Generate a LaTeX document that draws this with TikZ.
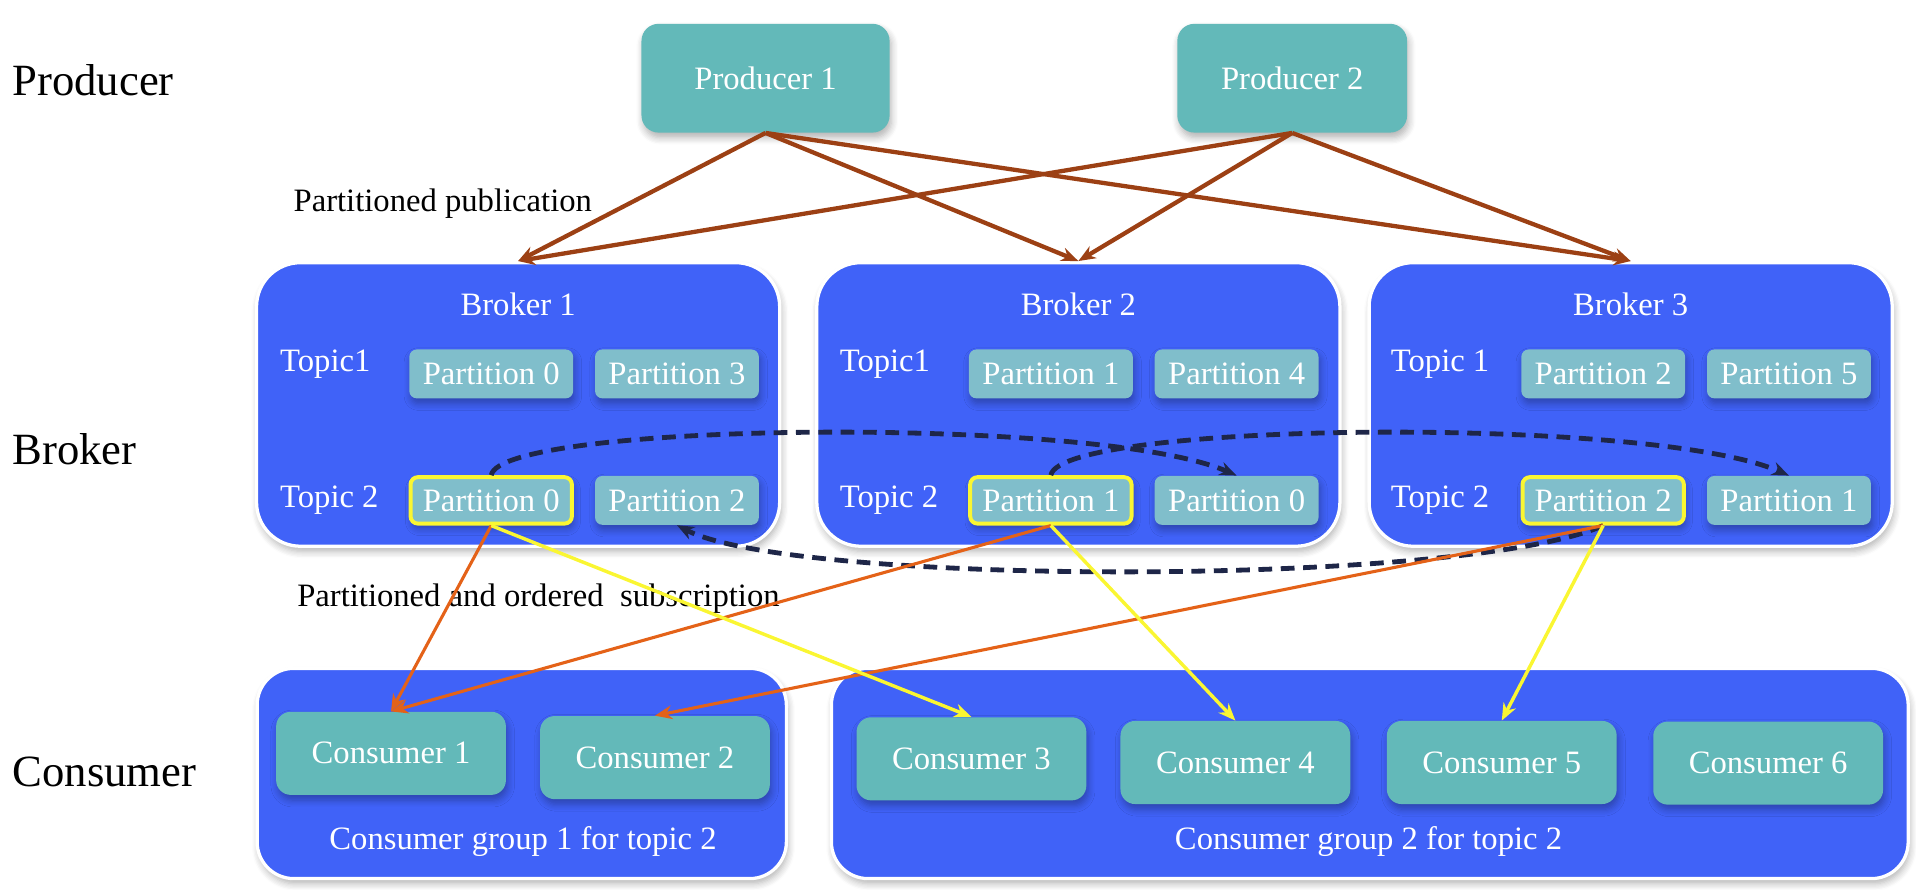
\documentclass[tikz,border=0pt]{standalone}
\usepackage{fontspec}
\setmainfont{Liberation Serif}
\usetikzlibrary{arrows.meta,shadows.blur}
\definecolor{tealbox}{RGB}{99,185,185}
\definecolor{brokerblue}{RGB}{64,98,248}
\definecolor{partcol}{RGB}{128,190,203}
\definecolor{leadyellow}{RGB}{250,246,50}
\definecolor{pubbrown}{RGB}{156,64,20}
\definecolor{suborange}{RGB}{228,98,24}
\definecolor{repnavy}{RGB}{30,38,72}
\begin{document}
\begin{tikzpicture}
    [x=0.025cm,y=-0.025cm,inner sep=0pt,
     >={Stealth[length=10pt,width=8pt]},
     softshadow/.style={blur shadow={shadow blur steps=6,shadow xshift=1pt,shadow yshift=-3pt,shadow blur radius=4pt,shadow opacity=30}},
     rowlabel/.style={anchor=west,font=\fontsize{26}{31}\selectfont},
     plaintext/.style={font=\fontsize{19}{23}\selectfont},
     boxtext/.style={text=white,font=\fontsize{19}{23}\selectfont},
     producer/.style={rectangle,rounded corners=0.35cm,fill=tealbox,minimum height=2.225cm,boxtext,softshadow},
     broker/.style={rectangle,rounded corners=0.9cm,fill=brokerblue,draw=white,line width=1.9pt,minimum width=10.7cm,minimum height=5.8cm,softshadow},
     partbox/.style={rectangle,rounded corners=0.15cm,fill=partcol,minimum width=3.35cm,minimum height=1cm,boxtext,softshadow},
     leadbox/.style={partbox,draw=leadyellow,line width=2.3pt,minimum width=3.3cm,minimum height=0.95cm},
     cgroup/.style={rectangle,rounded corners=0.75cm,fill=brokerblue,draw=white,line width=1.9pt,minimum height=4.3cm,softshadow},
     consumer/.style={rectangle,rounded corners=0.3cm,fill=tealbox,minimum width=4.7cm,minimum height=1.7cm,boxtext,softshadow},
     publish/.style={->,draw=pubbrown,line width=2.5pt},
     subscribe/.style={->,draw=suborange,line width=1.8pt},
     subyellow/.style={->,draw=leadyellow,line width=2pt},
     replicate/.style={->,draw=repnavy,line width=2.8pt,dash pattern=on 8pt off 5pt}]
    \useasboundingbox (0,0) rectangle (1568,728);
    \node (rowprod) at (10, 66) [rowlabel] {Producer};
    \node (rowbrk) at (10, 368) [rowlabel] {Broker};
    \node (rowcons) at (10, 632) [rowlabel] {Consumer};
    % producers
    \node (prod1) at (626.5, 64) [producer,minimum width=5.075cm] {Producer 1};
    \node (prod2) at (1057.5, 64) [producer,minimum width=4.7cm] {Producer 2};
    % brokers
    \node (brk1) at (424, 331) [broker] {};
    \node (brk2) at (882.5, 331) [broker] {};
    \node (brk3) at (1334.5, 331) [broker] {};
    \node (brk1t) at (424, 249) [boxtext] {Broker 1};
    \node (brk2t) at (882.5, 249) [boxtext] {Broker 2};
    \node (brk3t) at (1334.5, 249) [boxtext] {Broker 3};
    \node (b1top1) at (229, 298) [boxtext,anchor=west] {Topic1};
    \node (b1top2) at (229, 409) [boxtext,anchor=west] {Topic 2};
    \node (b2top1) at (687, 298) [boxtext,anchor=west] {Topic1};
    \node (b2top2) at (687, 409) [boxtext,anchor=west] {Topic 2};
    \node (b3top1) at (1138, 298) [boxtext,anchor=west] {Topic 1};
    \node (b3top2) at (1138, 409) [boxtext,anchor=west] {Topic 2};
    % partitions
    \node (t1p0) at (402, 306) [partbox] {Partition 0};
    \node (t1p3) at (554, 306) [partbox] {Partition 3};
    \node (t1p1) at (860, 306) [partbox] {Partition 1};
    \node (t1p4) at (1012, 306) [partbox] {Partition 4};
    \node (t1p2) at (1312, 306) [partbox] {Partition 2};
    \node (t1p5) at (1464, 306) [partbox] {Partition 5};
    \node (t2p0) at (402, 409.5) [leadbox] {Partition 0};
    \node (t2p2r) at (554, 409.5) [partbox] {Partition 2};
    \node (t2p1) at (860, 409.5) [leadbox] {Partition 1};
    \node (t2p0r) at (1012, 409.5) [partbox] {Partition 0};
    \node (t2p2) at (1312, 409.5) [leadbox] {Partition 2};
    \node (t2p1r) at (1464, 409.5) [partbox] {Partition 1};
    % consumer groups
    \node (grp1) at (427, 633) [cgroup,minimum width=10.825cm] {};
    \node (grp2) at (1121, 633) [cgroup,minimum width=22.025cm] {};
    \node (grp1t) at (428, 689) [boxtext] {Consumer group 1 for topic 2};
    \node (grp2t) at (1120, 689) [boxtext] {Consumer group 2 for topic 2};
    \node (cons1) at (320, 616.5) [consumer] {Consumer 1};
    \node (cons2) at (536, 620) [consumer] {Consumer 2};
    \node (cons3) at (795, 621) [consumer] {Consumer 3};
    \node (cons4) at (1011, 624) [consumer] {Consumer 4};
    \node (cons5) at (1229, 624) [consumer] {Consumer 5};
    \node (cons6) at (1447, 624.5) [consumer] {Consumer 6};
    \node (publab) at (240, 167) [plaintext,anchor=west] {Partitioned publication};
    \node (sublab) at (243, 490) [plaintext,anchor=west] {Partitioned and ordered~~subscription};
    % publication
    \draw [publish] (prod1.south) to (brk1.north);
    \draw [publish] (prod1.south) to (brk2.north);
    \draw [publish] (prod1.south) to (brk3.north);
    \draw [publish] (prod2.south) to (brk1.north);
    \draw [publish] (prod2.south) to (brk2.north);
    \draw [publish] (prod2.south) to (brk3.north);
    % replication
    \draw [replicate] (t2p0.north) .. controls (410, 345) and (900, 340) .. (t2p0r.north);
    \draw [replicate] (t2p1.north) .. controls (868, 345) and (1352, 340) .. (t2p1r.north);
    \draw [replicate] (t2p2.south) .. controls (1200, 480) and (650, 480) .. (t2p2r.south);
    % subscription
    \draw [subscribe] (t2p0.south) to (cons1.north);
    \draw [subscribe] (t2p1.south) to (cons1.north);
    \draw [subscribe] (t2p2.south) to (cons2.north);
    \draw [subyellow] (t2p0.south) to (cons3.north);
    \draw [subyellow] (t2p1.south) to (cons4.north);
    \draw [subyellow] (t2p2.south) to (cons5.north);
\end{tikzpicture}
\end{document}
